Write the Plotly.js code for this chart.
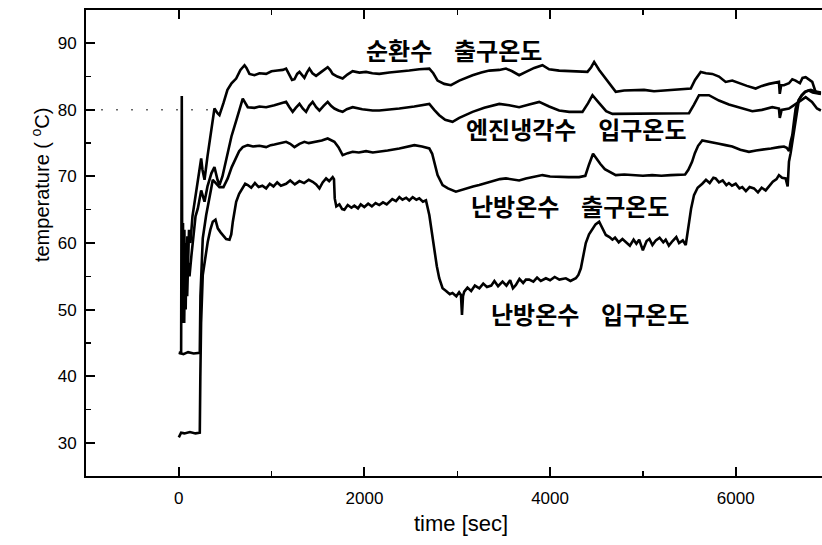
<!DOCTYPE html>
<html><head><meta charset="utf-8">
<script src="https://cdn.plot.ly/plotly-3.0.1.min.js"></script>
<style>html,body{margin:0;padding:0;background:#fff}#chart{width:822px;height:545px}</style>
</head><body><div id="chart"></div>
<script>
// 순환수 출구온도
const s1x=[0,25,32,38,45,52,60,68,76,84,92,100,110,125,147,180,212,241,255,277,309,352,384,417,438,481,524,568,618,664,708,729,761,815,869,941,998,1062,1120,1156,1192,1220,1246,1275,1300,1330,1353,1380,1407,1440,1479,1536,1580,1604,1630,1658,1708,1765,1816,1873,1945,2017,2085,2160,2268,2376,2483,2591,2699,2742,2788,2860,2932,3022,3100,3165,3259,3345,3453,3525,3592,3667,3740,3829,3918,3990,4098,4206,4313,4403,4443,4475,4529,4601,4658,4708,4798,4887,5013,5120,5246,5390,5516,5562,5623,5680,5748,5820,5892,5963,6035,6121,6215,6282,6359,6466,6475,6490,6520,6574,6610,6646,6692,6720,6754,6789,6825,6861,6918];
const s1y=[43.5,43.5,82.1,48,63,50,62,51,60,53,61,57,62,60,64,67,70,72.7,71,69.5,73,77.5,80.2,79.5,79.2,81,83,84,84.7,86,86.7,86.3,85.4,85.2,85.5,85.4,85.8,85.9,86.0,86.2,85.2,84.5,84.6,85.4,85.7,85.2,84.8,85.6,86.2,85.5,85.1,85.7,86.2,86.4,86.0,85.4,85.0,84.7,85.3,85.8,85.6,85.7,85.5,85.4,85.6,85.7,85.9,86.1,86.2,85.5,84.4,83.9,83.7,84.4,84.9,85.2,85.6,85.9,86.0,86.2,85.8,85.2,85.7,86.3,86.7,86.1,85.9,85.8,85.8,85.7,86.4,87.2,86.0,84.7,83.5,82.7,82.9,82.9,83.0,82.8,82.9,83.1,83.2,84.5,85.7,85.5,85.4,85.0,84.2,84.4,84.0,83.6,83.2,83.6,83.9,84.2,82.4,83.7,83.7,84.0,84.6,84.4,84.0,84.8,84.9,84.5,84.2,82.7,82.4];
// 엔진냉각수 입구온도
const s2x=[38,42,50,58,66,74,82,90,100,115,135,160,180,205,241,277,309,352,384,417,438,470,510,567,621,654,689,743,815,869,941,1030,1156,1192,1227,1260,1300,1335,1371,1405,1442,1480,1515,1560,1604,1640,1676,1720,1765,1810,1873,1977,2088,2160,2268,2376,2537,2699,2752,2806,2870,2949,3022,3100,3165,3291,3453,3560,3667,3775,3883,3990,4098,4206,4349,4410,4457,4529,4604,4672,4852,5067,5282,5497,5551,5605,5712,5820,5927,6035,6179,6282,6394,6466,6475,6495,6574,6681,6754,6822,6876,6918];
const s2y=[60,49,58,48,57,50,58,52,57,55,58,62,64,65.2,67.9,66.2,68.5,70.5,71.4,69.5,68.7,70,72.7,76,78.5,80,81.7,80.4,80.3,80.5,80.4,80.7,81.2,80.4,79.7,80.3,80.9,80.2,79.7,80.6,81.2,80.4,79.9,80.6,81.2,80.6,80.2,79.9,79.7,80.1,80.4,80.1,79.9,79.9,80.0,80.2,80.5,80.9,80.0,79.2,78.5,78.2,78.8,79.3,79.7,80.3,80.9,80.7,80.4,80.8,81.2,80.5,79.9,79.7,79.7,81.0,82.2,81.0,79.8,79.4,79.4,79.4,79.4,79.5,80.8,82.2,82.2,81.4,80.8,80.4,79.8,80.0,80.4,80.2,78.8,80.0,80.2,81.2,81.9,81.2,80.2,79.9];
// 난방온수 출구온도
const s3x=[0,50,100,160,226,233,258,295,349,366,384,417,438,481,527,570,618,650,689,743,800,869,941,990,1030,1090,1156,1200,1246,1300,1353,1400,1479,1540,1604,1640,1676,1720,1765,1820,1873,1940,2017,2090,2160,2250,2376,2450,2538,2620,2699,2730,2760,2788,2842,2900,2985,3050,3100,3170,3237,3320,3400,3460,3525,3600,3667,3740,3800,3860,3918,4000,4100,4200,4313,4380,4420,4463,4500,4540,4590,4636,4708,4800,4900,5000,5100,5200,5300,5400,5455,5490,5530,5560,5595,5640,5700,5760,5820,5890,5963,6050,6143,6220,6300,6380,6466,6520,6550,6575,6592,6610,6630,6646,6680,6714,6750,6789,6830,6870,6918];
const s3y=[43.5,43.3,43.6,43.4,43.5,52,60.7,64.2,68.2,69.5,69.2,68.8,68.4,68.4,69.7,71.4,72.7,73.8,74.4,74.7,74.5,74.6,74.4,74.7,74.8,75.0,75.2,74.9,74.4,74.9,75.2,75.0,75.2,75.4,75.7,75.5,75.2,74.4,73.2,73.5,73.7,73.6,73.8,73.6,73.7,73.9,74.2,74.4,74.7,74.5,74.2,73.4,71.5,70.2,68.7,68.2,67.7,68.0,68.2,68.5,68.7,69.0,69.3,69.6,69.7,69.5,69.4,69.7,69.9,70.0,70.2,70.0,69.9,69.9,69.9,70.1,71.8,73.4,72.7,71.9,71.1,70.7,70.2,70.3,70.2,70.1,70.2,70.1,70.2,70.2,70.3,71.0,72.2,73.5,74.6,75.4,75.2,75.0,74.9,74.7,74.5,74.0,73.7,73.9,74.0,74.2,74.4,74.5,74.3,73.8,75.2,76.2,78.5,80.2,81.5,82.2,82.7,82.9,82.6,82.5,82.4];
// 난방온수 입구온도
const s4x=[0,25,60,120,180,226,232,240,258,285,312,340,366,395,420,450,474,510,546,565,582,600,618,650,689,715,743,780,820,860,900,941,980,1020,1060,1100,1156,1200,1250,1300,1350,1400,1442,1480,1515,1550,1587,1620,1658,1672,1680,1697,1730,1760,1784,1820,1860,1891,1930,1960,1999,2040,2080,2120,2160,2200,2240,2268,2300,2340,2376,2410,2450,2483,2520,2560,2591,2630,2663,2699,2725,2753,2780,2806,2842,2880,2920,2949,2990,3020,3040,3051,3062,3075,3110,3150,3190,3238,3280,3320,3366,3400,3440,3488,3530,3570,3600,3632,3670,3710,3740,3775,3820,3860,3900,3955,4000,4050,4100,4170,4220,4278,4305,4332,4360,4385,4420,4457,4490,4529,4560,4601,4640,4672,4700,4740,4780,4816,4860,4900,4930,4960,5000,5040,5070,5103,5140,5180,5220,5246,5280,5320,5360,5390,5430,5462,5480,5497,5520,5551,5590,5640,5680,5720,5760,5784,5820,5860,5900,5927,5960,6000,6040,6071,6110,6150,6197,6240,6280,6323,6360,6400,6440,6466,6500,6538,6560,6574,6592,6610,6630,6650,6681,6710,6746,6780,6810,6850,6880,6918];
const s4y=[30.8,31.5,31.4,31.6,31.4,31.5,40,48,55.2,58,60.2,62,63.2,63.5,62.2,61.6,61.2,60.6,60.5,61.3,63.2,65,66.2,67.4,68.2,68.9,68.7,68.3,69.0,68.4,68.6,68.2,68.9,68.5,69.1,68.6,68.9,69.4,68.8,69.3,69.0,69.5,69.2,68.8,68.2,69.1,69.7,69.3,69.9,69.6,66.7,65.5,65.8,65.1,65.0,65.7,65.3,65.6,65.2,65.8,65.4,65.9,65.5,66.0,65.7,66.1,65.8,66.2,66.6,66.3,66.9,66.5,66.8,66.4,66.9,66.5,66.7,66.2,66.4,64.2,61.5,59.2,56.5,54.7,53.2,52.8,52.3,52.5,52.0,52.6,52.2,49.2,52.0,52.7,53.3,52.8,53.6,53.2,53.9,53.4,53.6,54.3,53.5,54.2,53.6,54.4,53.2,53.7,54.6,54.0,54.5,54.5,54.2,54.8,54.3,54.7,54.4,54.9,54.5,54.7,54.3,54.7,55.2,56.2,58.5,60.0,61.3,62.2,62.8,63.2,62.3,61.2,60.9,60.5,60.8,60.1,60.6,60.2,59.6,60.5,59.9,60.5,58.9,60.3,60.6,59.7,60.4,60.8,60.1,60.5,59.6,60.3,60.9,60.0,60.4,59.7,61.5,63.2,65.2,67.2,68.3,68.9,69.5,69.0,69.8,69.7,69.1,69.4,68.7,69.0,68.6,68.9,68.2,68.4,67.8,68.4,68.2,67.6,68.3,67.9,68.6,69.2,69.6,70.2,69.8,69.7,68.5,72.2,73.5,75.2,77.2,79.0,81.5,82.2,82.7,82.9,83.0,82.8,82.7,82.6];
// dotted reference at 80
const refX=[-1000,450];
const refY=[80,80];
// labels
const gap='\u00a0\u00a0\u00a0\u00a0';
const labelText=['순환수'+gap+'출구온도','엔진냉각수'+gap+'입구온도','난방온수'+gap+'출구온도','난방온수'+gap+'입구온도'];
const labelX=[1999,3075,3129,3344];
const labelY=[89.1,77.2,65.6,49.4];
const xTitle='time [sec]';
const yTitle='temperature ( <sup>o</sup>C)';

const line={color:'black',width:2.6};
const traces=[
 {x:refX,y:refY,mode:'lines',line:{color:'#666',width:1.5,dash:'2px,13px'},hoverinfo:'skip'},
 {x:s1x,y:s1y,mode:'lines',line:line},
 {x:s2x,y:s2y,mode:'lines',line:line},
 {x:s3x,y:s3y,mode:'lines',line:line},
 {x:s4x,y:s4y,mode:'lines',line:line}
];
const kfont={family:'"Noto Sans CJK KR", sans-serif',size:24,color:'black',weight:'bold'};
const ann=labelText.map((t,i)=>({x:labelX[i],y:labelY[i],xref:'x',yref:'y',text:t,showarrow:false,xanchor:'left',yanchor:'middle',font:kfont}));
ann.push({xref:'paper',yref:'paper',x:0.5095,y:-0.101,text:xTitle,showarrow:false,xanchor:'center',yanchor:'middle',font:{family:'"Liberation Sans", Arial, sans-serif',size:22,color:'black'}});
ann.push({xref:'paper',yref:'y',x:-0.0625,y:68.7,text:yTitle,textangle:-90,showarrow:false,xanchor:'center',yanchor:'middle',font:{family:'"Liberation Sans", Arial, sans-serif',size:20,color:'black'}});
const ax={showline:true,linewidth:2,linecolor:'black',showgrid:false,zeroline:false,ticks:'inside',ticklen:9,tickwidth:2,tickcolor:'black',
 tickfont:{family:'"Liberation Sans", Arial, sans-serif',size:17,color:'black'}};
const layout={
 width:822,height:545,margin:{l:86,r:0,t:10,b:69},showlegend:false,
 paper_bgcolor:'white',plot_bgcolor:'white',
 xaxis:Object.assign({},ax,{range:[-1000,6930],tick0:0,dtick:2000,mirror:'allticks',ticklabelstandoff:6,
   minor:{ticks:'inside',ticklen:5,tickwidth:1.5,tickcolor:'black',dtick:1000,tick0:0}}),
 yaxis:Object.assign({},ax,{range:[25,95],tick0:0,dtick:10,mirror:false,ticklabelstandoff:4,
   minor:{ticks:'inside',ticklen:5,tickwidth:1.5,tickcolor:'black',dtick:5,tick0:0}}),
 annotations:ann
};
Plotly.newPlot('chart',traces,layout,{displayModeBar:false,staticPlot:true});
</script></body></html>
